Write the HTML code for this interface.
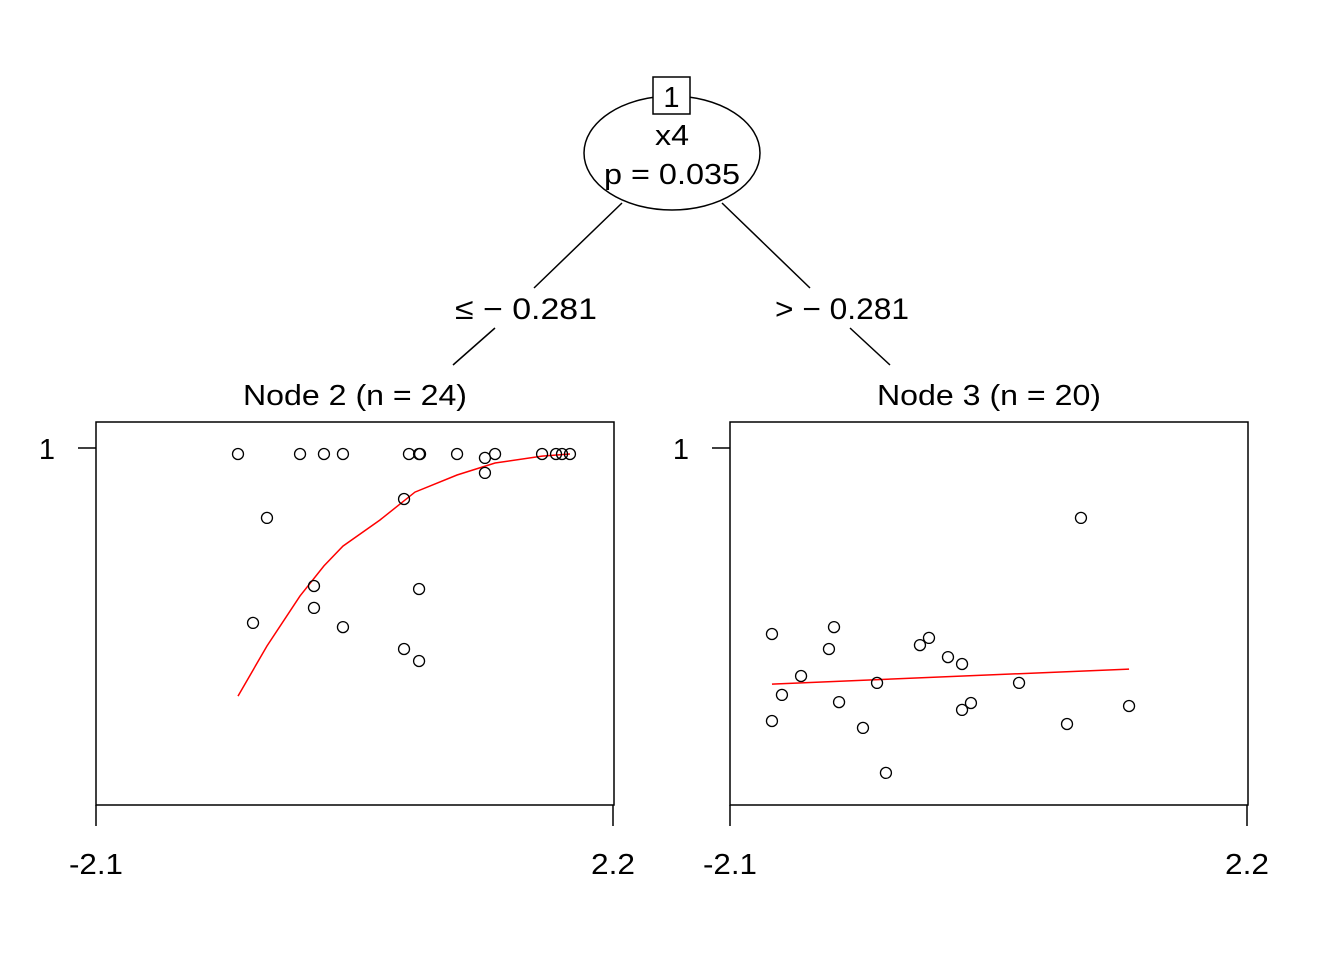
<!DOCTYPE html>
<html><head><meta charset="utf-8"><style>
html,body{margin:0;padding:0;background:#fff}
svg{display:block}
text{font-family:"Liberation Sans",sans-serif;fill:#000}
</style></head><body>
<svg id="c" width="1344" height="960" viewBox="0 0 1344 960" xmlns="http://www.w3.org/2000/svg">
<g stroke="#000" stroke-width="1.5" fill="none">
<ellipse cx="672" cy="153" rx="88" ry="57" fill="#fff"/>
<line x1="622" y1="203" x2="534" y2="288"/>
<line x1="495" y1="328" x2="453" y2="365"/>
<line x1="722" y1="203" x2="810" y2="288"/>
<line x1="850" y1="328" x2="890" y2="365"/>
<rect x="653" y="77" width="37" height="37" fill="#fff"/>
</g>
<text x="671.5" y="107" font-size="29" text-anchor="middle">1</text>
<text x="672" y="145" font-size="29" text-anchor="middle" textLength="34" lengthAdjust="spacingAndGlyphs">x4</text>
<text x="672" y="184" font-size="29" text-anchor="middle" textLength="136" lengthAdjust="spacingAndGlyphs">p = 0.035</text>
<text x="526" y="319" font-size="30" text-anchor="middle" textLength="142" lengthAdjust="spacingAndGlyphs">≤ − 0.281</text>
<text x="842" y="319" font-size="30" text-anchor="middle" textLength="134" lengthAdjust="spacingAndGlyphs">&gt; − 0.281</text>
<g id="panels"></g>
</svg>
<script>
const leftX=[-0.919,-0.403,-0.204,-0.046,0.503,0.587,0.595,0.903,1.135,1.219,1.610,1.726,1.776,1.842,-0.678,0.462,1.135,-0.287,0.587,-0.287,-0.794,-0.046,0.462,0.587];
const leftY=[0.98,0.98,0.98,0.98,0.98,0.98,0.98,0.98,0.967,0.98,0.98,0.98,0.98,0.98,0.767,0.83,0.917,0.54,0.53,0.467,0.417,0.403,0.33,0.29];
const leftFitX=[-0.919,-0.678,-0.403,-0.204,-0.046,0.262,0.553,0.903,1.219,1.610,1.842];
const leftFitY=[0.173,0.34,0.507,0.607,0.673,0.76,0.853,0.91,0.95,0.973,0.98];
const rightX=[-1.751,-1.668,-1.751,-1.509,-1.277,-1.235,-1.193,-0.994,-0.877,-0.803,-0.520,-0.445,-0.287,-0.170,-0.170,-0.096,0.304,0.703,0.819,1.219];
const rightY=[0.38,0.177,0.09,0.24,0.33,0.403,0.153,0.067,0.217,-0.083,0.343,0.367,0.303,0.28,0.127,0.15,0.217,0.08,0.767,0.14];
const rightFitX=[-1.751,1.219];
const rightFitY=[0.213,0.263];
const xTicks=["-2.1","2.2"];
const titles=["Node 2 (n = 24)","Node 3 (n = 20)"];
const NS="http://www.w3.org/2000/svg";
const g=document.getElementById('panels');
function mk(t,a){const e=document.createElementNS(NS,t);for(const k in a)e.setAttribute(k,a[k]);return e;}
const xs=v=>(v+2.1)*517/4.3;
const ys=v=>448+(1-v)*300;
function panel(i,ox,px,py,fx,fy){
  const p=mk('g',{});
  
  
  const r=mk('rect',{x:ox,y:422,width:518,height:383,fill:'none',stroke:'#000','stroke-width':1.5});
  
  
  p.appendChild(r);
  const t=mk('text',{x:ox+259,y:405,'font-size':29,'text-anchor':'middle',textLength:224,lengthAdjust:'spacingAndGlyphs'});t.textContent=titles[i];
  
  
  p.appendChild(t);
  const yt=mk('line',{x1:ox-18,y1:ys(1),x2:ox,y2:ys(1),stroke:'#000','stroke-width':1.5});
  
  
  p.appendChild(yt);
  const yl=mk('text',{x:ox-49,y:ys(1)+11,'font-size':29,'text-anchor':'middle'});yl.textContent='1';
  
  
  p.appendChild(yl);
  [-2.1,2.2].forEach((v,j)=>{
    const x=ox+xs(v);
    const l=mk('line',{x1:x,y1:805,x2:x,y2:826,stroke:'#000','stroke-width':1.5});
    
    
    p.appendChild(l);
    const tx=mk('text',{x:x,y:874,'font-size':29,'text-anchor':'middle',textLength:xTicks[j].length===4?54:44,lengthAdjust:'spacingAndGlyphs'});tx.textContent=xTicks[j];
    
    
    p.appendChild(tx);
  });
  const pts=fx.map((v,k)=>(ox+xs(v))+','+ys(fy[k])).join(' ');
  const pl=mk('polyline',{points:pts,fill:'none',stroke:'#ff0000','stroke-width':1.5});
  
  
  p.appendChild(pl);
  px.forEach((v,k)=>{
    const c=mk('circle',{cx:ox+xs(v),cy:ys(py[k]),r:5.5,fill:'none',stroke:'#000','stroke-width':1.3});
    
    
    p.appendChild(c);
  });
  g.appendChild(p);
}
panel(0,96,leftX,leftY,leftFitX,leftFitY);
panel(1,730,rightX,rightY,rightFitX,rightFitY);
</script>
</body></html>
